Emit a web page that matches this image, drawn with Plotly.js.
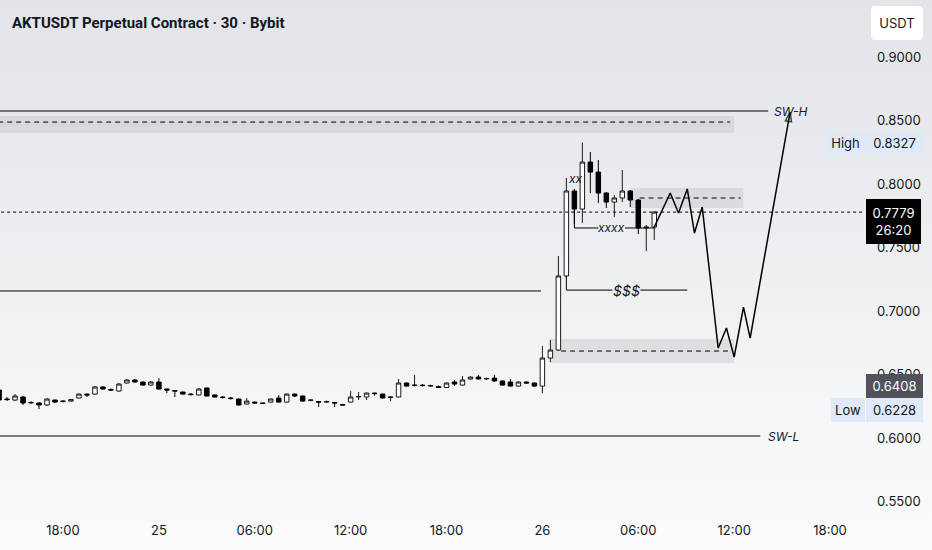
<!DOCTYPE html>
<html><head><meta charset="utf-8">
<script src="https://cdn.plot.ly/plotly-3.0.1.min.js"></script>
<style>
html,body{margin:0;padding:0;}
body{width:932px;height:550px;overflow:hidden;background:linear-gradient(to bottom,#e2e4e8 0%,#eceef1 45%,#f6f7f8 80%,#fbfbfc 100%);}
#chart{width:932px;height:550px;}
</style></head><body><div id="chart"></div>
<script>
// ---- candle data (30m) ----
const times = [
'2025-06-24 14:00','2025-06-24 14:30','2025-06-24 15:00','2025-06-24 15:30','2025-06-24 16:00','2025-06-24 16:30','2025-06-24 17:00','2025-06-24 17:30',
'2025-06-24 18:00','2025-06-24 18:30','2025-06-24 19:00','2025-06-24 19:30','2025-06-24 20:00','2025-06-24 20:30','2025-06-24 21:00','2025-06-24 21:30',
'2025-06-24 22:00','2025-06-24 22:30','2025-06-24 23:00','2025-06-24 23:30',
'2025-06-25 00:00','2025-06-25 00:30','2025-06-25 01:00','2025-06-25 01:30','2025-06-25 02:00','2025-06-25 02:30','2025-06-25 03:00','2025-06-25 03:30',
'2025-06-25 04:00','2025-06-25 04:30','2025-06-25 05:00','2025-06-25 05:30','2025-06-25 06:00','2025-06-25 06:30','2025-06-25 07:00','2025-06-25 07:30',
'2025-06-25 08:00','2025-06-25 08:30','2025-06-25 09:00','2025-06-25 09:30','2025-06-25 10:00','2025-06-25 10:30','2025-06-25 11:00','2025-06-25 11:30',
'2025-06-25 12:00','2025-06-25 12:30','2025-06-25 13:00','2025-06-25 13:30','2025-06-25 14:00','2025-06-25 14:30','2025-06-25 15:00','2025-06-25 15:30',
'2025-06-25 16:00','2025-06-25 16:30','2025-06-25 17:00','2025-06-25 17:30','2025-06-25 18:00','2025-06-25 18:30','2025-06-25 19:00','2025-06-25 19:30',
'2025-06-25 20:00','2025-06-25 20:30','2025-06-25 21:00','2025-06-25 21:30','2025-06-25 22:00','2025-06-25 22:30','2025-06-25 23:00','2025-06-25 23:30',
'2025-06-26 00:00','2025-06-26 00:30','2025-06-26 01:00','2025-06-26 01:30','2025-06-26 02:00','2025-06-26 02:30','2025-06-26 03:00','2025-06-26 03:30',
'2025-06-26 04:00','2025-06-26 04:30','2025-06-26 05:00','2025-06-26 05:30','2025-06-26 06:00','2025-06-26 06:30','2025-06-26 07:00'
];
const opens = [
0.6378,0.6307,0.6299,0.6323,0.6276,0.6276,0.6260,0.6299,
0.6287,0.6291,0.6315,0.6346,0.6346,0.6402,0.6382,0.6370,0.6433,0.6457,0.6441,0.6417,
0.6441,0.6386,0.6374,0.6362,0.6346,0.6339,0.6394,0.6339,0.6323,0.6315,0.6307,0.6268,
0.6283,0.6276,0.6283,0.6315,0.6283,0.6346,0.6331,0.6295,0.6287,0.6283,0.6280,0.6264,
0.6283,0.6323,0.6323,0.6354,0.6346,0.6319,0.6323,0.6433,0.6413,0.6417,0.6409,0.6406,
0.6398,0.6441,0.6417,0.6465,0.6480,0.6465,0.6472,0.6449,0.6441,0.6409,0.6441,0.6433,
0.6409,0.6630,0.6693,0.7276,0.7945,0.7803,0.8173,0.8094,0.7929,0.7858,0.7890,0.7945,
0.7874,0.7654,0.7661
];
const highs = [
0.6386,0.6323,0.6346,0.6331,0.6291,0.6283,0.6315,0.6303,
0.6299,0.6307,0.6350,0.6350,0.6409,0.6409,0.6390,0.6433,0.6465,0.6465,0.6445,0.6449,
0.6472,0.6390,0.6378,0.6366,0.6354,0.6394,0.6398,0.6342,0.6331,0.6323,0.6311,0.6315,
0.6287,0.6280,0.6311,0.6339,0.6350,0.6350,0.6335,0.6307,0.6291,0.6295,0.6283,0.6268,
0.6370,0.6362,0.6358,0.6358,0.6350,0.6331,0.6465,0.6437,0.6496,0.6425,0.6421,0.6413,
0.6437,0.6457,0.6488,0.6484,0.6496,0.6476,0.6496,0.6453,0.6465,0.6445,0.6445,0.6437,
0.6724,0.6772,0.7433,0.8047,0.7961,0.8327,0.8252,0.8189,0.7937,0.7913,0.8110,0.7953,
0.7882,0.7677,0.7787
];
const lows = [
0.6291,0.6291,0.6291,0.6260,0.6268,0.6228,0.6252,0.6276,
0.6280,0.6287,0.6311,0.6323,0.6339,0.6382,0.6370,0.6366,0.6429,0.6437,0.6413,0.6413,
0.6382,0.6354,0.6323,0.6342,0.6335,0.6335,0.6327,0.6319,0.6311,0.6303,0.6256,0.6264,
0.6272,0.6268,0.6280,0.6280,0.6280,0.6323,0.6287,0.6291,0.6244,0.6276,0.6244,0.6256,
0.6280,0.6299,0.6299,0.6335,0.6311,0.6291,0.6319,0.6406,0.6406,0.6406,0.6402,0.6394,
0.6394,0.6409,0.6413,0.6461,0.6461,0.6457,0.6445,0.6413,0.6406,0.6406,0.6429,0.6402,
0.6354,0.6598,0.6685,0.7260,0.7685,0.7693,0.7929,0.7850,0.7811,0.7740,0.7858,0.7819,
0.7606,0.7472,0.7559
];
const closes = [
0.6299,0.6303,0.6331,0.6276,0.6280,0.6260,0.6307,0.6283,
0.6291,0.6303,0.6346,0.6339,0.6402,0.6386,0.6378,0.6425,0.6457,0.6441,0.6417,0.6441,
0.6386,0.6378,0.6370,0.6346,0.6342,0.6386,0.6331,0.6323,0.6319,0.6311,0.6260,0.6291,
0.6276,0.6272,0.6307,0.6283,0.6346,0.6331,0.6291,0.6299,0.6283,0.6287,0.6276,0.6260,
0.6323,0.6327,0.6354,0.6350,0.6315,0.6323,0.6433,0.6409,0.6417,0.6413,0.6413,0.6398,
0.6433,0.6425,0.6457,0.6480,0.6465,0.6469,0.6449,0.6417,0.6409,0.6441,0.6433,0.6409,
0.6630,0.6693,0.7276,0.7945,0.7803,0.8173,0.8094,0.7929,0.7858,0.7890,0.7945,0.7874,
0.7654,0.7661,0.7779
];

// ---- projected path ----
const projTimes = ['2025-06-26 07:00','2025-06-26 08:00','2025-06-26 08:31','2025-06-26 09:04','2025-06-26 09:31','2025-06-26 10:00','2025-06-26 11:00','2025-06-26 11:31','2025-06-26 12:00','2025-06-26 12:35','2025-06-26 13:00','2025-06-26 15:30'];
const projPrices = [0.7661,0.7929,0.7772,0.7961,0.7614,0.7819,0.6709,0.6866,0.6638,0.7031,0.6787,0.8567];

// ---- levels ----
const swHigh = 0.8575, swLow = 0.6016;
const topZone = [0.8402, 0.8535], topZoneMid = 0.8488;
const midZone = [0.7811, 0.7969], midZoneMid = 0.7890;
const lowZone = [0.6591, 0.6780], lowZoneMid = 0.6685;
const liqLeft = 0.7158, liqRight = 0.7165;
const xxxxLevel = 0.7654, xxxxTop = 0.7803, dollarTop = 0.7276, xxLevel = 0.8040;
const lastPrice = 0.7779, prevClose = 0.6408, hiPrice = 0.8327, loPrice = 0.6228;

// ---- axis ticks ----
const xTickVals = ['2025-06-24 18:00','2025-06-25 00:00','2025-06-25 06:00','2025-06-25 12:00','2025-06-25 18:00','2025-06-26 00:00','2025-06-26 06:00','2025-06-26 12:00','2025-06-26 18:00'];
const xTickText = ['18:00','25','06:00','12:00','18:00','26','06:00','12:00','18:00'];
const yTickVals = [0.55,0.60,0.65,0.70,0.75,0.80,0.85,0.90];

const PW = 862, PH = 515;
const px = v => v / PW;
const py = v => 1 - v / PH;
const FONT = 'Inter, "Noto Sans", sans-serif';
const INK = '#131722';
const START = '2025-06-24 10:00';
const zoneFill = 'rgba(185,189,197,0.36)';
const DASH = '5px,4px';

const candle = {
  type: 'candlestick', x: times, open: opens, high: highs, low: lows, close: closes,
  increasing: {line: {color: '#1a1a1a', width: 1}, fillcolor: '#ffffff'},
  decreasing: {line: {color: '#000000', width: 1}, fillcolor: '#000000'},
  whiskerwidth: 0, hoverinfo: 'skip', showlegend: false
};
const proj = {
  type: 'scatter', mode: 'lines+markers', x: projTimes, y: projPrices,
  line: {color: '#000', width: 1.5},
  marker: {symbol: 'arrow-open', angleref: 'previous', size: projPrices.map((v, i) => i === projPrices.length - 1 ? 10 : 0), color: '#000', line: {color: '#000', width: 1.5}},
  hoverinfo: 'skip', showlegend: false
};

function hline(y, x0, x1, dash, w) {
  return {type: 'line', xref: 'x', yref: 'y', x0: x0, x1: x1, y0: y, y1: y, line: {color: '#000', width: w || 1, dash: dash || 'solid'}, layer: 'above'};
}
function zone(z, x0, x1) {
  return {type: 'rect', xref: 'x', yref: 'y', x0: x0, x1: x1, y0: z[0], y1: z[1], fillcolor: zoneFill, line: {width: 0}, layer: 'below'};
}
// path coordinates on a date axis use '_' in place of the space
const d = s => s.replace(' ', '_');
function bracket(xv, yTop, yLevel, xEnd) {
  return {type: 'path', xref: 'x', yref: 'y',
    path: 'M ' + d(xv) + ',' + yTop + ' L ' + d(xv) + ',' + yLevel + ' L ' + d(xEnd) + ',' + yLevel,
    line: {color: '#000', width: 1}, layer: 'above'};
}
// rounded USDT box
const bx0 = px(871), bx1 = px(923), byT = py(6), byB = py(40), rx = 5 / PW, ry = 5 / PH;
const usdtPath = `M ${bx0 + rx},${byT} L ${bx1 - rx},${byT} Q ${bx1},${byT} ${bx1},${byT - ry} L ${bx1},${byB + ry} Q ${bx1},${byB} ${bx1 - rx},${byB} L ${bx0 + rx},${byB} Q ${bx0},${byB} ${bx0},${byB + ry} L ${bx0},${byT - ry} Q ${bx0},${byT} ${bx0 + rx},${byT} Z`;

const shapes = [
  zone(topZone, START, '2025-06-26 12:00'),
  zone(midZone, '2025-06-26 05:30', '2025-06-26 12:35'),
  zone(lowZone, '2025-06-26 00:30', '2025-06-26 12:00'),
  hline(swHigh, START, '2025-06-26 14:08'),
  hline(topZoneMid, START, '2025-06-26 11:45', DASH),
  hline(midZoneMid, '2025-06-26 06:05', '2025-06-26 12:25', DASH),
  hline(lowZoneMid, '2025-06-26 01:10', '2025-06-26 11:45', DASH),
  hline(swLow, START, '2025-06-26 13:38'),
  hline(liqLeft, START, '2025-06-25 23:55'),
  hline(lastPrice, START, '2025-06-26 23:00', 'dot'),
  bracket('2025-06-26 02:00', xxxxTop, xxxxLevel, '2025-06-26 03:30'),
  hline(xxxxLevel, '2025-06-26 05:10', '2025-06-26 07:04'),
  bracket('2025-06-26 01:30', dollarTop, liqRight, '2025-06-26 04:23'),
  hline(liqRight, '2025-06-26 06:08', '2025-06-26 09:04'),
  {type: 'path', xref: 'paper', yref: 'paper', path: usdtPath, fillcolor: '#ffffff', line: {width: 0}, layer: 'above'}
];

function lbl(text, cx, cy, w, h, bg, col) {
  return {xref: 'paper', yref: 'paper', x: px(cx), y: py(cy), xanchor: 'center', yanchor: 'middle', text: text, showarrow: false,
    width: w, height: h, bgcolor: bg, borderpad: 0, borderwidth: 0, font: {family: FONT, size: 13, color: col}};
}
const annotations = [
  {xref: 'paper', yref: 'paper', x: px(10), y: py(23), xanchor: 'left', yanchor: 'middle', text: '<b>AKTUSDT Perpetual Contract · 30 · Bybit</b>', showarrow: false,
    font: {family: 'Roboto, sans-serif', size: 15, color: INK}},
  {xref: 'x', yref: 'y', x: '2025-06-26 14:22', y: swHigh, xanchor: 'left', yanchor: 'middle', text: '<i>SW-H</i>', showarrow: false, font: {family: FONT, size: 12, color: INK}},
  {xref: 'x', yref: 'y', x: '2025-06-26 14:00', y: swLow, xanchor: 'left', yanchor: 'middle', text: '<i>SW-L</i>', showarrow: false, font: {family: FONT, size: 12, color: INK}},
  {xref: 'x', yref: 'y', x: '2025-06-26 02:04', y: xxLevel, xanchor: 'center', yanchor: 'middle', text: '<i>xx</i>', showarrow: false, font: {family: FONT, size: 12, color: INK}},
  {xref: 'x', yref: 'y', x: '2025-06-26 04:19', y: xxxxLevel, xanchor: 'center', yanchor: 'middle', text: '<i>xxxx</i>', showarrow: false, font: {family: FONT, size: 12, color: INK}},
  {xref: 'x', yref: 'y', x: '2025-06-26 05:15', y: liqRight, xanchor: 'center', yanchor: 'middle', text: '<i>$$$</i>', showarrow: false, font: {family: FONT, size: 14, color: INK}},
  lbl('USDT', 897, 23, 50, 30, 'rgba(0,0,0,0)', INK),
  lbl('High', 845.5, 143, 39, 22, '#dfe9f8', INK),
  lbl(hiPrice.toFixed(4), 894.5, 143, 57, 22, '#dfe9f8', INK),
  lbl(lastPrice.toFixed(4) + '<br>26:20', 893.5, 221.5, 55, 45, '#000000', '#ffffff'),
  lbl(prevClose.toFixed(4), 894.5, 386, 57, 24, '#50535c', '#ffffff'),
  lbl('Low', 848, 410, 34, 24, '#dfe9f8', INK),
  lbl(loPrice.toFixed(4), 894.5, 410, 57, 24, '#dfe9f8', INK)
];

const layout = {
  width: 932, height: 550,
  margin: {l: 0, r: 70, t: 0, b: 35},
  paper_bgcolor: 'rgba(0,0,0,0)', plot_bgcolor: 'rgba(0,0,0,0)',
  xaxis: {type: 'date', range: ['2025-06-24 14:03:30', '2025-06-26 20:00'], rangeslider: {visible: false},
    tickvals: xTickVals, ticktext: xTickText, showgrid: false, zeroline: false, showline: false, ticks: '',
    tickfont: {family: FONT, size: 13, color: INK}, ticklabelstandoff: 6, fixedrange: true},
  yaxis: {range: [0.5394, 0.9449], side: 'right', tickvals: yTickVals, tickformat: '.4f', showgrid: false, zeroline: false, showline: false, ticks: '',
    tickfont: {family: FONT, size: 13, color: INK}, ticklabelstandoff: 14, fixedrange: true},
  shapes: shapes, annotations: annotations, showlegend: false, boxgap: 0.2
};

Plotly.newPlot('chart', [candle, proj], layout, {displayModeBar: false, staticPlot: true});
</script>
</body></html>
